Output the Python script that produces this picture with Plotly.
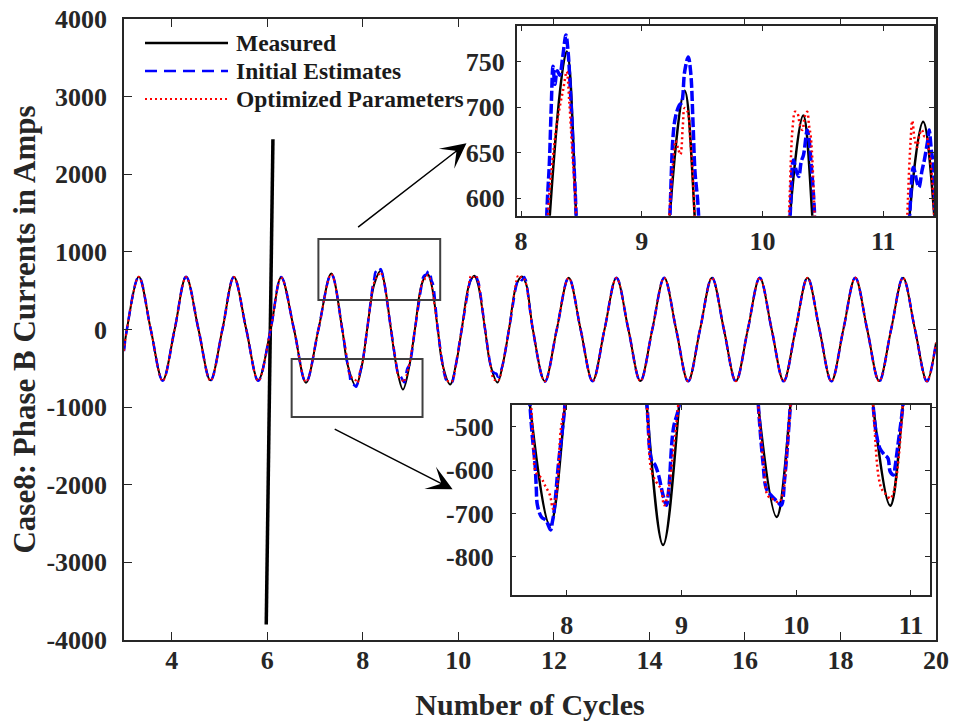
import plotly.graph_objects as go

FONT = "Liberation Serif"
INK = "#262626"

# ---------------- data ----------------
x_start, x_end = 3.0, 20.0
start_vals = {"Measured": -265, "Initial Estimates": -280, "Optimized Parameters": -275}
end_vals = {"Measured": -170, "Initial Estimates": -165, "Optimized Parameters": -170}

rise_zero_x = [3.06, 4.06, 5.06, 6.07, 7.07, 8.09, 9.09, 10.07, 11.06, 12.06,
               13.06, 14.06, 15.06, 16.06, 17.06, 18.06, 19.06]
fall_zero_x = [3.56, 4.56, 5.56, 6.56, 7.57, 8.59, 9.57, 10.56, 11.56, 12.56,
               13.56, 14.56, 15.56, 16.56, 17.56, 18.56, 19.56]
peak_x = [3.31, 4.30, 5.30, 6.29, 7.34, 8.37, 9.36, 10.34, 11.33, 12.31,
          13.31, 14.31, 15.31, 16.31, 17.31, 18.31, 19.31]
trough_x = [3.81, 4.81, 5.81, 6.81, 7.85, 8.84, 9.83, 10.82, 11.81, 12.81,
            13.81, 14.81, 15.81, 16.81, 17.81, 18.81, 19.81]

measured_peak = [680, 678, 678, 672, 722, None, None, None, None, 668,
                 666, 666, 668, 666, 666, 668, 666]
measured_trough = [-655, -655, -655, -685, None, None, None, None, -668, -665,
                   -665, -668, -665, -665, -668, -665, -665]
initial_peak = [682, 680, 676, 676, 716, None, None, None, None, 668,
                668, 666, 668, 668, 666, 668, 668]
initial_trough = [-660, -658, -660, -680, None, None, None, None, -672, -668,
                  -668, -668, -670, -668, -668, -670, -668]
optimized_peak = [678, 676, 676, 670, 712, None, None, None, None, 664,
                  664, 664, 666, 664, 664, 666, 664]
optimized_trough = [-662, -660, -662, -676, None, None, None, None, -668, -666,
                    -666, -666, -666, -666, -666, -666, -666]

# detail around the peaks/troughs shown in the two insets
measured_detail_x = [7.68, 7.855, 7.985, 8.24, 8.378, 8.455, 8.697, 8.84, 8.98,
                     9.234, 9.355, 9.436, 9.669, 9.83, 9.95, 10.23, 10.337, 10.41,
                     10.67, 10.82, 10.93, 11.22, 11.33, 11.42]
measured_detail_y = [-450, -727, -450, 585, 761, 585, -450, -773, -450,
                     585, 718, 585, -450, -708, -450, 585, 691, 585,
                     -450, -682, -450, 585, 684, 585]

initial_detail_x = [7.68, 7.70, 7.725, 7.735, 7.745, 7.78, 7.82, 7.86, 7.875, 7.89, 7.93, 7.985,
                    8.214, 8.235, 8.25, 8.265, 8.28, 8.30, 8.32, 8.345, 8.372, 8.39, 8.41, 8.43, 8.455,
                    8.70, 8.74, 8.77, 8.80, 8.84, 8.87, 8.89, 8.93, 8.98,
                    9.234, 9.26, 9.28, 9.31, 9.33, 9.355, 9.385, 9.405, 9.425, 9.44, 9.469,
                    9.67, 9.71, 9.74, 9.78, 9.84, 9.87, 9.90, 9.95,
                    10.23, 10.256, 10.28, 10.30, 10.32, 10.34, 10.37, 10.385, 10.40, 10.43,
                    10.67, 10.70, 10.73, 10.77, 10.80, 10.82, 10.85, 10.86, 10.89, 10.93,
                    11.22, 11.25, 11.275, 11.295, 11.32, 11.34, 11.37, 11.38, 11.40, 11.41, 11.43]
initial_detail_y = [-450, -520, -588, -640, -681, -708, -716, -738, -720, -696, -581, -450,
                    585, 640, 700, 745, 725, 740, 735, 755, 779, 760, 715, 660, 585,
                    -450, -577, -588, -611, -658, -681, -643, -504, -450,
                    585, 670, 690, 702, 705, 739, 755, 738, 680, 630, 585,
                    -450, -581, -643, -658, -674, -681, -619, -450,
                    585, 642, 630, 624, 640, 648, 675, 665, 642, 585,
                    -450, -519, -550, -565, -573, -604, -611, -596, -535, -450,
                    585, 634, 620, 612, 630, 642, 665, 675, 650, 642, 585]

optimized_detail_x = [7.69, 7.71, 7.73, 7.78, 7.81, 7.855, 7.88, 7.91, 7.95, 7.985,
                      8.225, 8.26, 8.29, 8.32, 8.35, 8.378, 8.40, 8.425, 8.455,
                      8.70, 8.74, 8.78, 8.82, 8.85, 8.88, 8.935, 8.972,
                      9.23, 9.26, 9.28, 9.30, 9.32, 9.34, 9.355, 9.38, 9.40, 9.42, 9.436,
                      9.67, 9.72, 9.75, 9.79, 9.85, 9.88, 9.92, 9.95,
                      10.22, 10.25, 10.27, 10.29, 10.31, 10.33, 10.35, 10.37, 10.385, 10.40, 10.43,
                      10.67, 10.72, 10.75, 10.79, 10.82, 10.85, 10.88, 10.93,
                      11.20, 11.225, 11.24, 11.26, 11.28, 11.30, 11.32, 11.34, 11.36, 11.38, 11.39, 11.42]
optimized_detail_y = [-450, -540, -604, -619, -635, -658, -689, -658, -504, -450,
                      585, 640, 675, 700, 720, 739, 705, 650, 585,
                      -450, -604, -627, -643, -681, -658, -542, -450,
                      585, 640, 663, 655, 648, 680, 699, 695, 667, 630, 585,
                      -450, -596, -658, -666, -674, -658, -560, -450,
                      585, 679, 695, 693, 680, 675, 690, 695, 680, 667, 585,
                      -450, -619, -646, -658, -666, -650, -604, -450,
                      585, 660, 685, 665, 656, 670, 675, 668, 667, 650, 642, 585]

# transient spike in the measured current
spike_x = [5.978, 6.118]
spike_y = [-3800, 2450]

x_tick_vals = [4, 6, 8, 10, 12, 14, 16, 18, 20]
x_tick_text = ["4", "6", "8", "10", "12", "14", "16", "18", "20"]
y_tick_vals = [-4000, -3000, -2000, -1000, 0, 1000, 2000, 3000, 4000]
y_tick_text = ["-4000", "-3000", "-2000", "-1000", "0", "1000", "2000", "3000", "4000"]
inset_x_ticks = [8, 9, 10, 11]
inset_x_text = ["8", "9", "10", "11"]
top_inset_y_ticks = [600, 650, 700, 750]
top_inset_y_text = ["600", "650", "700", "750"]
bottom_inset_y_ticks = [-800, -700, -600, -500]
bottom_inset_y_text = ["-800", "-700", "-600", "-500"]

# zoom boxes (data coords) and arrows (tail -> head)
box_top = dict(x0=7.07, x1=9.62, y0=380, y1=1166)
box_bottom = dict(x0=6.51, x1=9.25, y0=-1127, y1=-380)
arrow_top = dict(tail=(7.87, 1304), head=(10.17, 2399))
arrow_bottom = dict(tail=(7.38, -1273), head=(9.88, -2059))


def assemble(name, peaks, troughs, det_x, det_y):
    pts = [(x_start, start_vals[name]), (x_end, end_vals[name])]
    pts += [(x, 0.0) for x in rise_zero_x + fall_zero_x]
    pts += [(x, v) for x, v in zip(peak_x, peaks) if v is not None]
    pts += [(x, v) for x, v in zip(trough_x, troughs) if v is not None]
    pts += list(zip(det_x, det_y))
    pts.sort(key=lambda p: p[0])
    return [p[0] for p in pts], [p[1] for p in pts]


series = [
    ("Measured", measured_peak, measured_trough, measured_detail_x, measured_detail_y,
     "#000000", "solid", 2.0, "solid", 2.5),
    ("Initial Estimates", initial_peak, initial_trough, initial_detail_x, initial_detail_y,
     "#0000FF", "10px,6px", 2.5, "10px,3px", 3.5),
    ("Optimized Parameters", optimized_peak, optimized_trough, optimized_detail_x, optimized_detail_y,
     "#FF0000", "2px,3px", 2.0, "2px,3px", 2.5),
]

fig = go.Figure()
for xa, ya in [("x", "y"), ("x2", "y2"), ("x3", "y3")]:
    main = xa == "x"
    for name, pk, tr, dx, dy, col, dash_main, w_main, dash_in, w_in in series:
        xs, ys = assemble(name, pk, tr, dx, dy)
        fig.add_trace(go.Scatter(
            x=xs, y=ys, mode="lines", name=name, showlegend=False,
            line=dict(color=col, width=w_main if main else w_in,
                      dash=dash_main if main else dash_in,
                      shape="spline", smoothing=1.0),
            xaxis=xa, yaxis=ya, hoverinfo="skip"))
        if name == "Measured" and main:
            fig.add_trace(go.Scatter(
                x=spike_x, y=spike_y, mode="lines", showlegend=False,
                line=dict(color=col, width=3.5), xaxis=xa, yaxis=ya, hoverinfo="skip"))

tick_font = dict(family=FONT, size=26, color=INK, weight="bold")
common = dict(showline=True, mirror="ticks", linecolor=INK, linewidth=1.5,
              ticks="inside", tickcolor=INK, tickwidth=1.2, showgrid=False,
              zeroline=False, tickfont=tick_font, automargin=False, tickmode="array")

W, H = 955, 723
ml, mr, mt, mb = 124, 19, 19, 83
pw, ph = W - ml - mr, H - mt - mb


def px_to_paper_x(px):
    return (px - ml) / pw


def px_to_paper_y(py):
    return (H - mb - py) / ph


fig.update_layout(
    width=W, height=H, template="none",
    margin=dict(l=ml, r=mr, t=mt, b=mb, pad=0),
    paper_bgcolor="white", plot_bgcolor="white", showlegend=False,
    xaxis=dict(**common, domain=[0, 1], range=[3, 20], tickvals=x_tick_vals,
               ticktext=x_tick_text, ticklen=8, ticklabelstandoff=-4,
               title=dict(text="Number of Cycles", standoff=20,
                          font=dict(family=FONT, size=30, color=INK, weight="bold"))),
    yaxis=dict(**common, domain=[0, 1], range=[-4000, 4000], tickvals=y_tick_vals,
               ticktext=y_tick_text, ticklen=8, ticklabelstandoff=10,
               title=dict(text="Case8: Phase B Currents in Amps", standoff=2,
                          font=dict(family=FONT, size=31, color=INK, weight="bold"))),
    xaxis2=dict(**common, domain=[px_to_paper_x(516.7), px_to_paper_x(934)], anchor="y2",
                range=[7.964, 11.42], tickvals=inset_x_ticks, ticktext=inset_x_text,
                ticklen=5, ticklabelstandoff=1),
    yaxis2=dict(**common, domain=[px_to_paper_y(215.7), px_to_paper_y(26)], anchor="x2",
                range=[581, 789], tickvals=top_inset_y_ticks, ticktext=top_inset_y_text,
                ticklen=5, ticklabelstandoff=5),
    xaxis3=dict(**common, domain=[px_to_paper_x(511.7), px_to_paper_x(930)], anchor="y3",
                range=[7.521, 11.166], tickvals=inset_x_ticks, ticktext=inset_x_text,
                ticklen=5, ticklabelstandoff=6),
    yaxis3=dict(**common, domain=[px_to_paper_y(595), px_to_paper_y(405)], anchor="x3",
                range=[-888, -450], tickvals=bottom_inset_y_ticks, ticktext=bottom_inset_y_text,
                ticklen=5, ticklabelstandoff=11),
)

# zoom boxes
for b in (box_top, box_bottom):
    fig.add_shape(type="rect", xref="x", yref="y", line=dict(color="#404040", width=2),
                  fillcolor="rgba(0,0,0,0)", **b)

# arrows
for a in (arrow_top, arrow_bottom):
    fig.add_annotation(x=a["head"][0], y=a["head"][1], ax=a["tail"][0], ay=a["tail"][1],
                       xref="x", yref="y", axref="x", ayref="y", text="",
                       showarrow=True, arrowhead=3, arrowsize=2.8, arrowwidth=1.5,
                       arrowcolor="black")

# legend (drawn manually to reproduce the long line samples)
legend_rows = [("Measured", "#000000", "solid", 2.5, 43),
               ("Initial Estimates", "#0000FF", "12px,7px", 2.5, 71),
               ("Optimized Parameters", "#FF0000", "2px,3px", 2.0, 99)]
for label, col, dash, w, py in legend_rows:
    yy = px_to_paper_y(py)
    fig.add_shape(type="line", xref="paper", yref="paper",
                  x0=px_to_paper_x(145), x1=px_to_paper_x(228), y0=yy, y1=yy,
                  line=dict(color=col, width=w, dash=dash))
    fig.add_annotation(x=px_to_paper_x(234), y=yy, xref="paper", yref="paper",
                       text=label, showarrow=False, xanchor="left", yanchor="middle",
                       font=dict(family=FONT, size=23.5, color="#1a1a1a", weight="bold"))

fig.write_html("out.html")
